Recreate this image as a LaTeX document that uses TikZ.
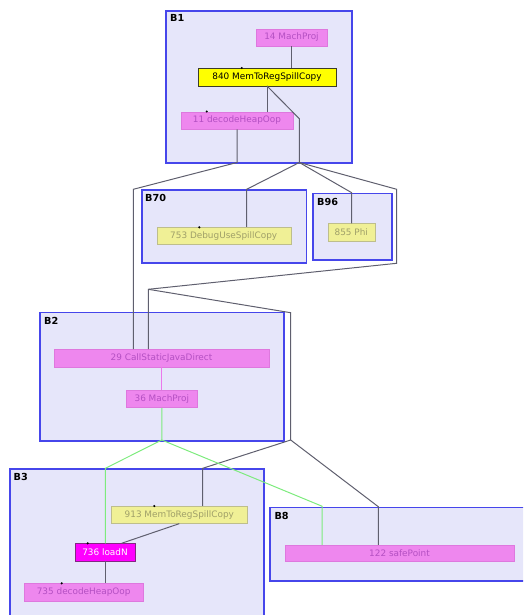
\documentclass[tikz,border=0pt]{standalone}
\usepackage{fontspec}
\setmainfont{DejaVu Sans}
\definecolor{blockfill}{RGB}{230,230,250}
\definecolor{blockline}{RGB}{70,70,235}
\definecolor{opfill}{RGB}{238,135,238}
\definecolor{opline}{RGB}{222,120,222}
\definecolor{optext}{RGB}{180,80,195}
\definecolor{palefill}{RGB}{240,240,150}
\definecolor{paleline}{RGB}{190,190,140}
\definecolor{paletext}{RGB}{160,160,105}
\definecolor{spillfill}{RGB}{255,255,0}
\definecolor{spillline}{RGB}{60,60,40}
\definecolor{loadfill}{RGB}{255,0,255}
\definecolor{loadline}{RGB}{130,40,130}
\definecolor{edgegray}{RGB}{95,95,110}
\definecolor{edgegreen}{RGB}{125,235,125}
\definecolor{edgepink}{RGB}{235,120,235}
\begin{document}
\begin{tikzpicture}[x=1pt,y=-1pt,
    block/.style={draw=blockline,fill=blockfill,line width=1.6pt,anchor=north west,inner sep=0pt},
    blabel/.style={anchor=base west,inner sep=0pt,font=\fontsize{9.7}{11}\selectfont\bfseries},
    op/.style={inner sep=0pt,minimum height=17.5pt,font=\fontsize{8.9}{10}\selectfont},
    pinkop/.style={op,fill=opfill,draw=opline,text=optext},
    paleop/.style={op,fill=palefill,draw=paleline,text=paletext},
    dot/.style={circle,fill=black,inner sep=0pt,minimum size=2.4pt}]
  \useasboundingbox (0,0) rectangle (523,615);
  \clip (0,0) rectangle (523,615);
  \path
    (165,10) node[block,minimum width=186pt,minimum height=152pt] (B1) {}
    (141,189.3) node[block,minimum width=164.7pt,minimum height=73pt] (B70) {}
    (312.3,192.5) node[block,minimum width=78.7pt,minimum height=66.8pt] (B96) {}
    (39.3,311.7) node[block,minimum width=244pt,minimum height=128.3pt] (B2) {}
    (9,468.3) node[block,minimum width=254.3pt,minimum height=160pt] (B3) {}
    (269.3,506.7) node[block,minimum width=270pt,minimum height=73.3pt] (B8) {};
  \path
    (170,21.7) node[blabel] (lB1) {B1}
    (145,201.5) node[blabel] (lB70) {B70}
    (317,205) node[blabel] (lB96) {B96}
    (44,324) node[blabel] (lB2) {B2}
    (13.5,480.5) node[blabel] (lB3) {B3}
    (274.3,519.3) node[blabel] (lB8) {B8};
  \path
    (291.5,37.5) node[pinkop,minimum width=71pt] (n14) {14 MachProj}
    (267,77) node[op,fill=spillfill,draw=spillline,minimum width=138pt] (n840) {840 MemToRegSpillCopy}
    (237,120.5) node[pinkop,minimum width=112pt] (n11) {11 decodeHeapOop}
    (223.7,235.7) node[paleop,minimum width=134pt] (n753) {753 DebugUseSpillCopy}
    (351.3,232.3) node[paleop,minimum width=47pt] (n855) {855 Phi}
    (161.5,358) node[pinkop,minimum width=214.4pt] (n29) {29 CallStaticJavaDirect}
    (161.8,398.8) node[pinkop,minimum width=71.7pt] (n36) {36 MachProj}
    (179.3,514.7) node[paleop,minimum width=136.7pt] (n913) {913 MemToRegSpillCopy}
    (105,552.2) node[op,fill=loadfill,draw=loadline,text=white,minimum width=59.4pt] (n736) {736 loadN}
    (83.7,592) node[pinkop,minimum width=119.3pt] (n735) {735 decodeHeapOop}
    (399.5,553.3) node[pinkop,minimum width=228.4pt,minimum height=16.7pt] (n122) {122 safePoint};
  \path
    (241.7,68) node[dot] (d840) {}
    (206.7,111.5) node[dot] (d11) {}
    (199.3,227.3) node[dot] (d753) {}
    (154.3,506) node[dot] (d913) {}
    (87.7,543.3) node[dot] (d736) {}
    (61.7,583.3) node[dot] (d735) {};
  \coordinate (k1) at (299.3,118.7);
  \coordinate (j1) at (299.3,162.5);
  \coordinate (k2) at (246.7,189.3);
  \coordinate (k3) at (351.7,192.7);
  \coordinate (k4) at (396.7,189.3);
  \coordinate (k5) at (396.7,263.3);
  \coordinate (j2) at (148.3,289.3);
  \coordinate (k6) at (290.7,312.7);
  \coordinate (j3) at (290.7,440);
  \coordinate (k7) at (202.7,468.3);
  \coordinate (k8) at (378.3,506.7);
  \coordinate (k9) at (133.3,189.3);
  \coordinate (g1) at (161.8,440);
  \coordinate (k11) at (105.3,468.3);
  \coordinate (k12) at (322,506.2);
  \begin{scope}[draw=edgegray,line width=1pt]
    \draw (n14.south) -- (n14.south |- n840.north);
    \draw (n840.south) -- (n840.south |- n11.north);
    \draw (n840.south) -- (k1) -- (j1);
    \draw (j1) -- (k2) -- (k2 |- n753.north);
    \draw (j1) -- (k3) -- (k3 |- n855.north);
    \draw (j1) -- (k4) -- (k5) -- (j2) -- (j2 |- n29.north);
    \draw (j2) -- (k6) -- (j3) -- (k7) -- (k7 |- n913.north);
    \draw (j3) -- (k8) -- (k8 |- n122.north);
    \draw (n11.south) -- (n11.south |- j1) -- (k9) -- (k9 |- n29.north);
    \draw (n913.south) -- ([xshift=16.7pt]n736.north);
    \draw (n736.south) -- (n736.south |- n735.north);
  \end{scope}
  \begin{scope}[line width=1pt]
    \draw[edgepink] (n29.south) -- (n29.south |- n36.north);
    \draw[edgegreen] (n36.south) -- (g1) -- (k11) -- (k11 |- n736.north);
    \draw[edgegreen] (g1) -- (k12) -- (k12 |- n122.north);
  \end{scope}
\end{tikzpicture}
\end{document}
